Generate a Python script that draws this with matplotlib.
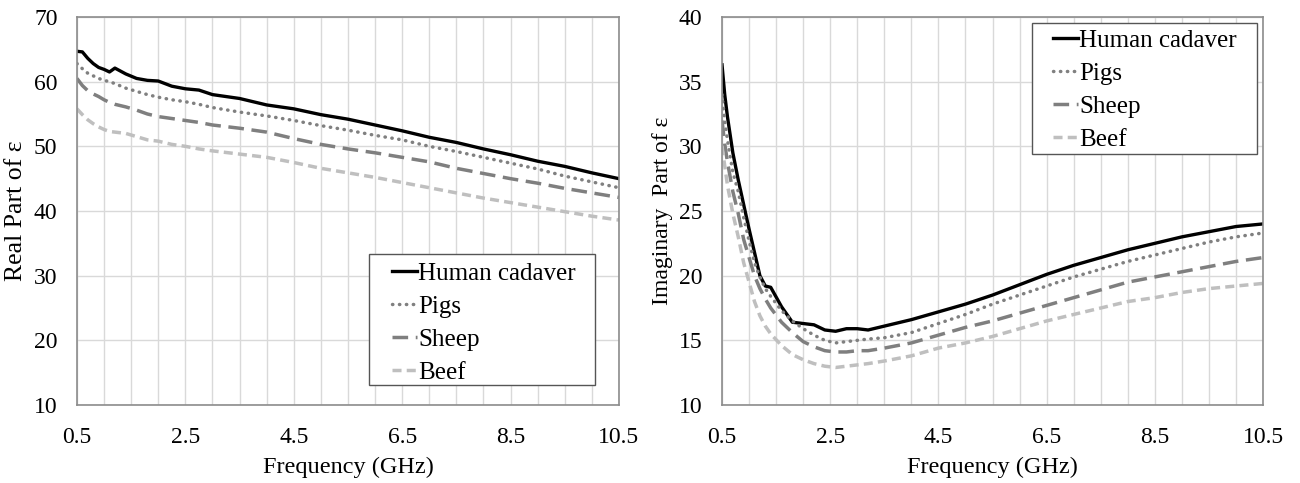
import numpy as np
import matplotlib
matplotlib.use('Agg')
import matplotlib.pyplot as plt
from matplotlib.patches import Rectangle
from matplotlib.ticker import MultipleLocator

plt.rcParams['font.family'] = ['Liberation Serif', 'DejaVu Serif']

# real part of permittivity
freq_re = [0.5, 0.6, 0.7, 0.8, 0.9, 1.0, 1.1, 1.2, 1.4, 1.6, 1.8, 2.0, 2.25, 2.5,
           2.75, 3.0, 3.5, 4.0, 4.5, 5.0, 5.5, 6.0, 6.5, 7.0, 7.5, 8.0, 8.5, 9.0,
           9.5, 10.0, 10.5]
human_re = [64.7, 64.6, 63.6, 62.8, 62.2, 61.9, 61.5, 62.1, 61.2, 60.5, 60.2, 60.1,
            59.3, 58.9, 58.7, 58.0, 57.4, 56.4, 55.8, 54.9, 54.2, 53.3, 52.4, 51.4,
            50.6, 49.6, 48.7, 47.7, 46.9, 45.9, 45.0]
pigs_re = [62.8, 62.0, 61.3, 60.9, 60.5, 60.2, 60.0, 59.7, 59.0, 58.5, 58.0, 57.6,
           57.2, 56.9, 56.5, 56.0, 55.3, 54.7, 54.0, 53.2, 52.5, 51.7, 51.0, 50.0,
           49.2, 48.3, 47.4, 46.5, 45.4, 44.5, 43.6]
sheep_re = [60.5, 59.4, 58.6, 58.1, 57.7, 57.2, 56.8, 56.5, 56.1, 55.6, 55.0, 54.6,
            54.3, 54.0, 53.7, 53.3, 52.8, 52.2, 51.2, 50.3, 49.6, 49.0, 48.3, 47.6,
            46.6, 45.8, 45.0, 44.3, 43.5, 42.8, 42.1]
beef_re = [55.8, 54.9, 54.1, 53.5, 53.0, 52.6, 52.3, 52.2, 52.0, 51.5, 51.0, 50.8,
           50.3, 50.0, 49.6, 49.3, 48.8, 48.3, 47.5, 46.6, 45.9, 45.2, 44.4, 43.6,
           42.8, 42.0, 41.3, 40.6, 39.9, 39.2, 38.6]

# imaginary part of permittivity
freq_im = [0.5, 0.55, 0.6, 0.7, 0.8, 0.9, 1.0, 1.1, 1.2, 1.3, 1.4, 1.6, 1.8, 2.0,
           2.2, 2.4, 2.6, 2.8, 3.0, 3.2, 3.5, 4.0, 4.5, 5.0, 5.5, 6.0, 6.5, 7.0,
           7.5, 8.0, 8.5, 9.0, 9.5, 10.0, 10.5]
human_im = [36.3, 34.0, 32.3, 29.5, 27.4, 25.5, 23.6, 21.8, 20.0, 19.2, 19.1, 17.6,
            16.4, 16.3, 16.2, 15.8, 15.7, 15.9, 15.9, 15.8, 16.1, 16.6, 17.2, 17.8,
            18.5, 19.3, 20.1, 20.8, 21.4, 22.0, 22.5, 23.0, 23.4, 23.8, 24.0]
pigs_im = [34.0, 32.0, 30.5, 28.0, 26.5, 24.5, 22.7, 21.0, 19.9, 19.0, 18.4, 17.3,
           16.5, 15.9, 15.4, 15.0, 14.8, 14.9, 15.0, 15.1, 15.2, 15.6, 16.3, 17.0,
           17.8, 18.5, 19.2, 19.9, 20.5, 21.1, 21.6, 22.1, 22.6, 23.0, 23.3]
sheep_im = [32.0, 30.2, 28.8, 26.5, 24.8, 22.8, 21.4, 20.0, 19.0, 18.2, 17.5, 16.4,
            15.6, 14.9, 14.5, 14.2, 14.1, 14.1, 14.2, 14.2, 14.4, 14.8, 15.4, 16.0,
            16.5, 17.1, 17.7, 18.3, 18.9, 19.5, 19.9, 20.3, 20.7, 21.1, 21.4]
beef_im = [30.0, 28.5, 27.0, 24.8, 23.0, 21.0, 19.5, 18.0, 16.9, 16.1, 15.5, 14.6,
           13.9, 13.5, 13.2, 13.0, 12.9, 13.0, 13.1, 13.2, 13.4, 13.8, 14.4, 14.8,
           15.3, 15.9, 16.5, 17.0, 17.5, 18.0, 18.3, 18.7, 19.0, 19.2, 19.4]

labels = ['Human cadaver', 'Pigs', 'Sheep', 'Beef']
styles = [
    dict(color='black', lw=2.4, ls='-'),
    dict(color='#808080', lw=2.5, ls=(0, (0.1, 1.9)), dash_capstyle='round'),
    dict(color='#7f7f7f', lw=2.5, ls=(0, (4.5, 2.2))),
    dict(color='#bfbfbf', lw=2.5, ls=(0, (2.6, 1.5))),
]

fig = plt.figure(figsize=(13, 4.83), dpi=100)
ax1 = fig.add_axes([0.0592, 0.1615, 0.4169, 0.8033])
ax2 = fig.add_axes([0.5554, 0.1615, 0.4162, 0.8033])


def style_axes(ax, ylim, ystep):
    ax.set_xlim(0.5, 10.5)
    ax.set_ylim(*ylim)
    ax.set_xticks(np.arange(0.5, 10.6, 2.0))
    ax.xaxis.set_minor_locator(MultipleLocator(0.5))
    ax.yaxis.set_major_locator(MultipleLocator(ystep))
    ax.set_xticklabels(['0.5', '2.5', '4.5', '6.5', '8.5', '10.5'])
    ax.grid(True, which='both', axis='x', color='#d9d9d9', lw=1.0)
    ax.grid(True, which='major', axis='y', color='#d9d9d9', lw=1.0)
    ax.set_axisbelow(True)
    ax.tick_params(which='both', length=0, labelsize=17)
    ax.tick_params(axis='x', pad=16)
    ax.tick_params(axis='y', pad=14)
    for s in ax.spines.values():
        s.set_color('#8c8c8c')
        s.set_linewidth(1.2)
    ax.set_xlabel('Frequency (GHz)', fontsize=17.5, labelpad=6)


def boxed_legend(ax, box, anchor):
    # white box drawn separately so the padding around the entries can be wider than tall
    x0, y0, x1, y1 = box
    ax.add_patch(Rectangle((x0, y0), x1 - x0, y1 - y0, transform=ax.transAxes,
                           facecolor='white', edgecolor='#555555', lw=1.0,
                           zorder=4, clip_on=False))
    leg = ax.legend(loc='upper left', bbox_to_anchor=anchor, fontsize=18,
                    handlelength=1.0, handletextpad=0.05, borderaxespad=0,
                    borderpad=0, frameon=False, labelspacing=0.42)
    leg.set_zorder(5)
    return leg


for ys, st, lab in zip([human_re, pigs_re, sheep_re, beef_re], styles, labels):
    ax1.plot(freq_re, ys, label=lab, **st)
style_axes(ax1, (10, 70), 10)
ax1.set_ylabel('Real Part of ε', fontsize=18.5)
ax1.yaxis.set_label_coords(-0.092, 0.5)
boxed_legend(ax1, (0.539, 0.0515, 0.956, 0.389), (0.581, 0.368))

for ys, st, lab in zip([human_im, pigs_im, sheep_im, beef_im], styles, labels):
    ax2.plot(freq_im, ys, label=lab, **st)
style_axes(ax2, (10, 40), 5)
ax2.set_ylabel('Imaginary  Part of ε', fontsize=17)
ax2.yaxis.set_label_coords(-0.090, 0.5)
boxed_legend(ax2, (0.573, 0.647, 0.989, 0.985), (0.612, 0.968))

fig.savefig('out.png', dpi=100)
